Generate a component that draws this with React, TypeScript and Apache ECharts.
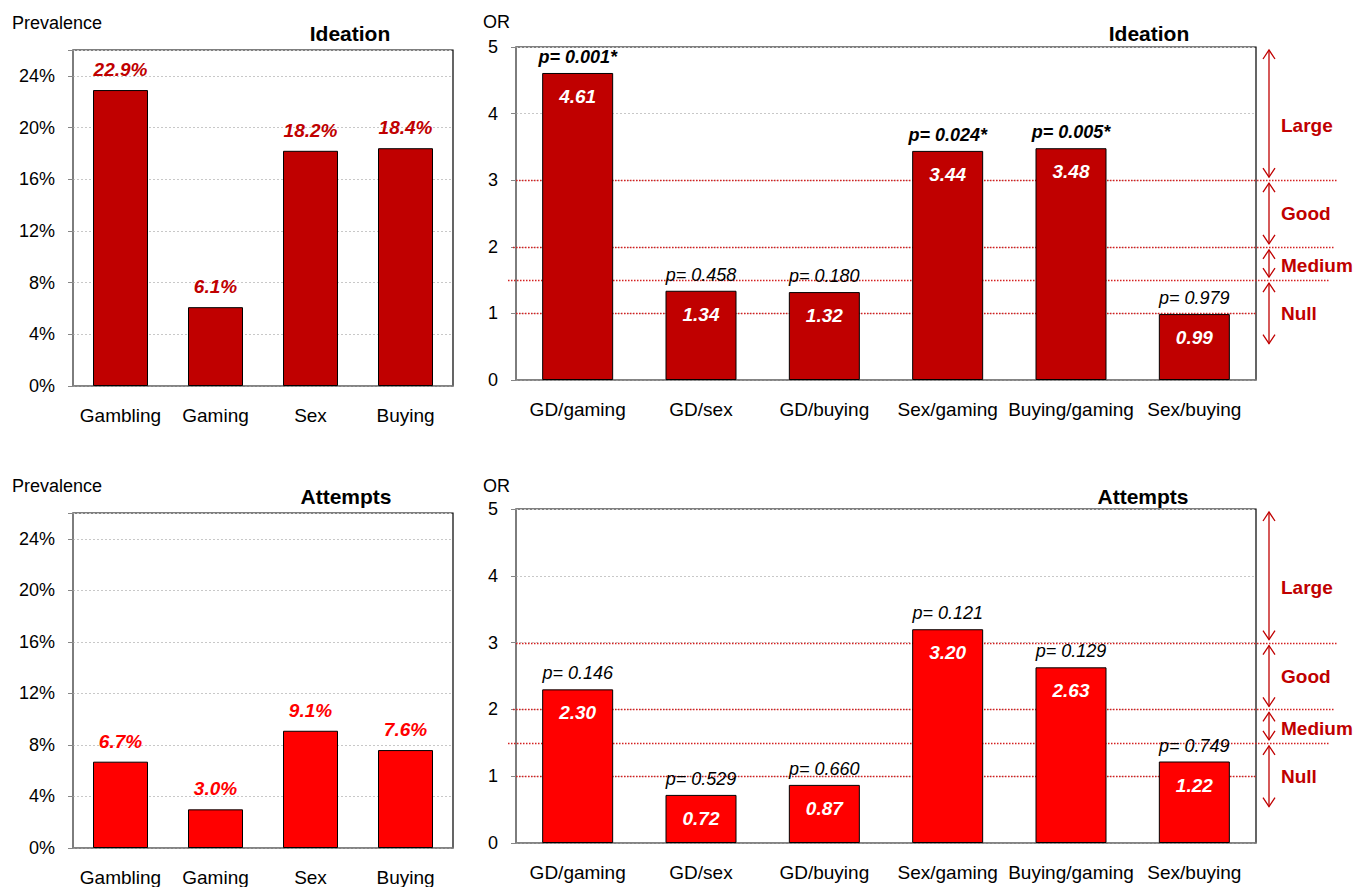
import React, { useEffect, useRef } from 'react';
import * as echarts from 'echarts';

// ---------- data ----------
const prevalenceCategories = ['Gambling', 'Gaming', 'Sex', 'Buying'];
const ideationPrevalence = [22.9, 6.1, 18.2, 18.4];
const attemptsPrevalence = [6.7, 3.0, 9.1, 7.6];

const orCategories = ['GD/gaming', 'GD/sex', 'GD/buying', 'Sex/gaming', 'Buying/gaming', 'Sex/buying'];
const ideationOR = [4.61, 1.34, 1.32, 3.44, 3.48, 0.99];
const ideationP = ['0.001', '0.458', '0.180', '0.024', '0.005', '0.979'];
const ideationSig = [true, false, false, true, true, false];
const attemptsOR = [2.3, 0.72, 0.87, 3.2, 2.63, 1.22];
const attemptsP = ['0.146', '0.529', '0.660', '0.121', '0.129', '0.749'];
const attemptsSig = [false, false, false, false, false, false];

const effectBands = ['Large', 'Good', 'Medium', 'Null'];
const bandFrom = [5, 3, 2, 1.5];
const bandTo = [3, 2, 1.5, 0.5];
const bandLabelAt = [3.82, 2.5, 1.72, 1.0];
const thresholds = [3, 2, 1.5, 1];

// ---------- styles ----------
const SANS = '"Liberation Sans", Arial, sans-serif';
const DARK_RED = '#C00000';
const BRIGHT_RED = '#FF0000';
const AXIS_GRAY = '#868686';

const grids = [
  { left: 73, top: 50, width: 380, height: 336 },
  { left: 516, top: 47, width: 740, height: 333 },
  { left: 73, top: 513, width: 380, height: 335 },
  { left: 516, top: 509, width: 740, height: 334 },
];

function xAxisFor(gridIndex: number, cats: string[]) {
  return {
    type: 'category',
    gridIndex,
    data: cats,
    axisLine: { show: true, lineStyle: { color: AXIS_GRAY, width: 1.5 } },
    axisTick: { show: false },
    axisLabel: { fontFamily: SANS, fontSize: 19, color: '#000', margin: 20, interval: 0 },
  };
}

function yAxisFor(gridIndex: number, max: number, interval: number, pct: boolean) {
  return {
    type: 'value',
    gridIndex,
    min: 0,
    max,
    interval,
    axisLine: { show: true, lineStyle: { color: AXIS_GRAY, width: 1.5 } },
    axisTick: { show: true, length: 5, lineStyle: { color: AXIS_GRAY } },
    axisLabel: {
      fontFamily: SANS,
      fontSize: 18,
      color: '#000',
      margin: 18,
      formatter: (v: number) => (pct ? (v > 24 ? '' : `${v}%`) : `${v}`),
    },
    splitLine: { show: true, lineStyle: { color: '#c8c8c8', type: [2, 2], width: 1 } },
  };
}

function prevalenceSeries(idx: number, values: number[], color: string) {
  return {
    type: 'bar',
    xAxisIndex: idx,
    yAxisIndex: idx,
    data: values,
    barWidth: 55,
    itemStyle: { color, borderColor: '#000', borderWidth: 1 },
    label: {
      show: true,
      position: 'top',
      distance: 11,
      formatter: (p: any) => `${Number(p.value).toFixed(1)}%`,
      fontFamily: SANS,
      fontSize: 19,
      fontWeight: 'bold',
      fontStyle: 'italic',
      color,
    },
  };
}

function orSeries(idx: number, values: number[], pvals: string[], sig: boolean[], color: string) {
  return [
    {
      type: 'bar',
      xAxisIndex: idx,
      yAxisIndex: idx,
      data: values,
      barWidth: 71,
      barGap: '-100%',
      z: 3,
      itemStyle: { color, borderColor: '#000', borderWidth: 1 },
      label: {
        show: true,
        position: 'insideTop',
        distance: 14,
        formatter: (p: any) => Number(p.value).toFixed(2),
        fontFamily: SANS,
        fontSize: 19,
        fontWeight: 'bold',
        fontStyle: 'italic',
        color: '#fff',
      },
    },
    {
      type: 'bar',
      xAxisIndex: idx,
      yAxisIndex: idx,
      data: values,
      barWidth: 71,
      barGap: '-100%',
      z: 4,
      silent: true,
      itemStyle: { color: 'transparent', borderWidth: 0 },
      label: {
        show: true,
        position: 'top',
        distance: 7,
        formatter: (p: any) =>
          sig[p.dataIndex] ? `{b|p= ${pvals[p.dataIndex]}*}` : `{n|p= ${pvals[p.dataIndex]}}`,
        rich: {
          b: { fontFamily: SANS, fontSize: 18, fontWeight: 'bold', fontStyle: 'italic', color: '#000' },
          n: { fontFamily: SANS, fontSize: 18, fontWeight: 'normal', fontStyle: 'italic', color: '#000' },
        },
      },
    },
  ];
}

function thresholdSeries(idx: number) {
  const rightExt = [81, 79, 74, 0];
  const leftExt = [0, -3, -8, 0];
  return {
    type: 'custom',
    xAxisIndex: idx,
    yAxisIndex: idx,
    z: 1,
    clip: false,
    silent: true,
    encode: { x: 0, y: 1 },
    data: thresholds.map((t) => [0, t]),
    renderItem: (params: any, api: any) => {
      const cs = params.coordSys;
      const y = Math.round(api.coord([0, api.value(1)])[1]) + 0.5;
      const i = params.dataIndex;
      return {
        type: 'line',
        shape: { x1: cs.x + leftExt[i], y1: y, x2: cs.x + cs.width + rightExt[i], y2: y },
        style: { stroke: '#D42020', lineWidth: 1.5, lineDash: [1.5, 1.5] },
      };
    },
  };
}

function bandSeries(idx: number) {
  return {
    type: 'custom',
    xAxisIndex: idx,
    yAxisIndex: idx,
    z: 5,
    clip: false,
    silent: true,
    encode: { x: 0, y: 1 },
    data: effectBands.map((_, i) => [0, bandFrom[i], bandTo[i], bandLabelAt[i]]),
    renderItem: (params: any, api: any) => {
      const cs = params.coordSys;
      const x = cs.x + cs.width + 13;
      const yTop = api.coord([0, api.value(1)])[1] + 3;
      const yBot = api.coord([0, api.value(2)])[1] - 3;
      const yLab = api.coord([0, api.value(3)])[1];
      const hw = 6;
      const hh = 9;
      const st = { stroke: DARK_RED, lineWidth: 1.3, fill: 'none' };
      return {
        type: 'group',
        children: [
          { type: 'line', shape: { x1: x, y1: yTop, x2: x, y2: yBot }, style: st },
          { type: 'polyline', shape: { points: [[x - hw, yTop + hh], [x, yTop], [x + hw, yTop + hh]] }, style: st },
          { type: 'polyline', shape: { points: [[x - hw, yBot - hh], [x, yBot], [x + hw, yBot - hh]] }, style: st },
          {
            type: 'text',
            x: x + 12,
            y: yLab,
            style: {
              text: effectBands[params.dataIndex],
              fill: DARK_RED,
              font: `bold 19px ${SANS}`,
              align: 'left',
              verticalAlign: 'middle',
            },
          },
        ],
      };
    },
  };
}

function label(text: string, x: number, y: number, bold: boolean, size: number, align = 'left') {
  return {
    type: 'text',
    x,
    y,
    style: {
      text,
      fill: '#000',
      font: `${bold ? 'bold ' : ''}${size}px ${SANS}`,
      align,
      verticalAlign: 'middle',
    },
  };
}

export default function App() {
  const ref = useRef<HTMLDivElement>(null);

  useEffect(() => {
    if (!ref.current) return;
    const chart = echarts.init(ref.current, undefined, { renderer: 'svg' });
    chart.setOption({
      animation: false,
      backgroundColor: '#fff',
      grid: grids.map((g) => ({ ...g, show: true, borderColor: '#000', borderWidth: 1.2, backgroundColor: 'transparent' })),
      xAxis: [
        xAxisFor(0, prevalenceCategories),
        xAxisFor(1, orCategories),
        xAxisFor(2, prevalenceCategories),
        xAxisFor(3, orCategories),
      ],
      yAxis: [yAxisFor(0, 26, 4, true), yAxisFor(1, 5, 1, false), yAxisFor(2, 26, 4, true), yAxisFor(3, 5, 1, false)],
      series: [
        prevalenceSeries(0, ideationPrevalence, DARK_RED),
        thresholdSeries(1),
        ...orSeries(1, ideationOR, ideationP, ideationSig, DARK_RED),
        bandSeries(1),
        prevalenceSeries(2, attemptsPrevalence, BRIGHT_RED),
        thresholdSeries(3),
        ...orSeries(3, attemptsOR, attemptsP, attemptsSig, BRIGHT_RED),
        bandSeries(3),
      ],
      graphic: [
        label('Prevalence', 12, 23, false, 18),
        label('Ideation', 350, 33, true, 21, 'center'),
        label('OR', 483, 22, false, 18),
        label('Ideation', 1149, 33, true, 21, 'center'),
        label('Prevalence', 12, 486, false, 18),
        label('Attempts', 346, 496, true, 21, 'center'),
        label('OR', 483, 486, false, 18),
        label('Attempts', 1143, 496, true, 21, 'center'),
      ],
    });
    return () => chart.dispose();
  }, []);

  return <div ref={ref} style={{ position: 'fixed', left: 0, top: 0, width: 1369, height: 887 }} />;
}
